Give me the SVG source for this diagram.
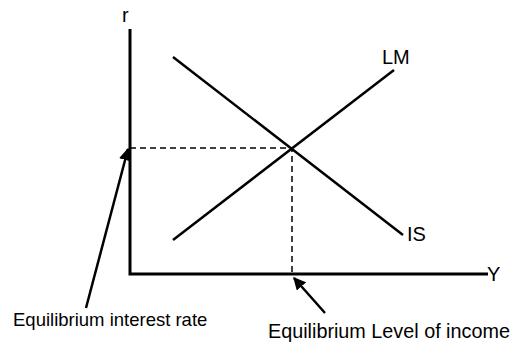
<svg xmlns="http://www.w3.org/2000/svg" width="513" height="346" viewBox="0 0 513 346">
<defs>
<style>
.ax{stroke:#000;stroke-width:3;fill:none}
.ln{stroke:#000;stroke-width:2.5;fill:none}
.ds{stroke:#000;stroke-width:1.5;stroke-dasharray:6,4;fill:none}
.ar{stroke:#000;stroke-width:2.5;fill:none}
.t{font-family:"Liberation Sans",Arial,sans-serif;font-size:18.5px;fill:#000}
.c{font-size:20px}
.b{font-size:19.8px}
</style>
<marker id="ah" viewBox="0 0 10 10" refX="9" refY="5" markerWidth="5" markerHeight="5" orient="auto" markerUnits="strokeWidth">
<path d="M0,0 L10,5 L0,10 z" fill="#000"/>
</marker>
</defs>
<rect width="513" height="346" fill="#fff"/>
<g id="axes">
<path class="ax" d="M130,29 V274 H488"/>
<text class="t c" x="122" y="22">r</text>
<text class="t c" x="487" y="281">Y</text>
</g>
<g id="IS">
<line class="ln" x1="173" y1="57" x2="403" y2="235"/>
<text class="t c" x="407" y="241">IS</text>
</g>
<g id="LM">
<line class="ln" x1="173" y1="240" x2="394" y2="70"/>
<text class="t c" x="382" y="64">LM</text>
</g>
<g id="connectors">
<path class="ds" d="M130,148 H292 V274"/>
<line class="ar" x1="86" y1="308" x2="128" y2="149" marker-end="url(#ah)"/>
<line class="ar" x1="325" y1="313" x2="294" y2="278" marker-end="url(#ah)"/>
</g>
<g id="label-rate">
<text class="t" x="13" y="326">Equilibrium interest rate</text>
</g>
<g id="label-income">
<text class="t b" x="268" y="338">Equilibrium Level of income</text>
</g>
</svg>
